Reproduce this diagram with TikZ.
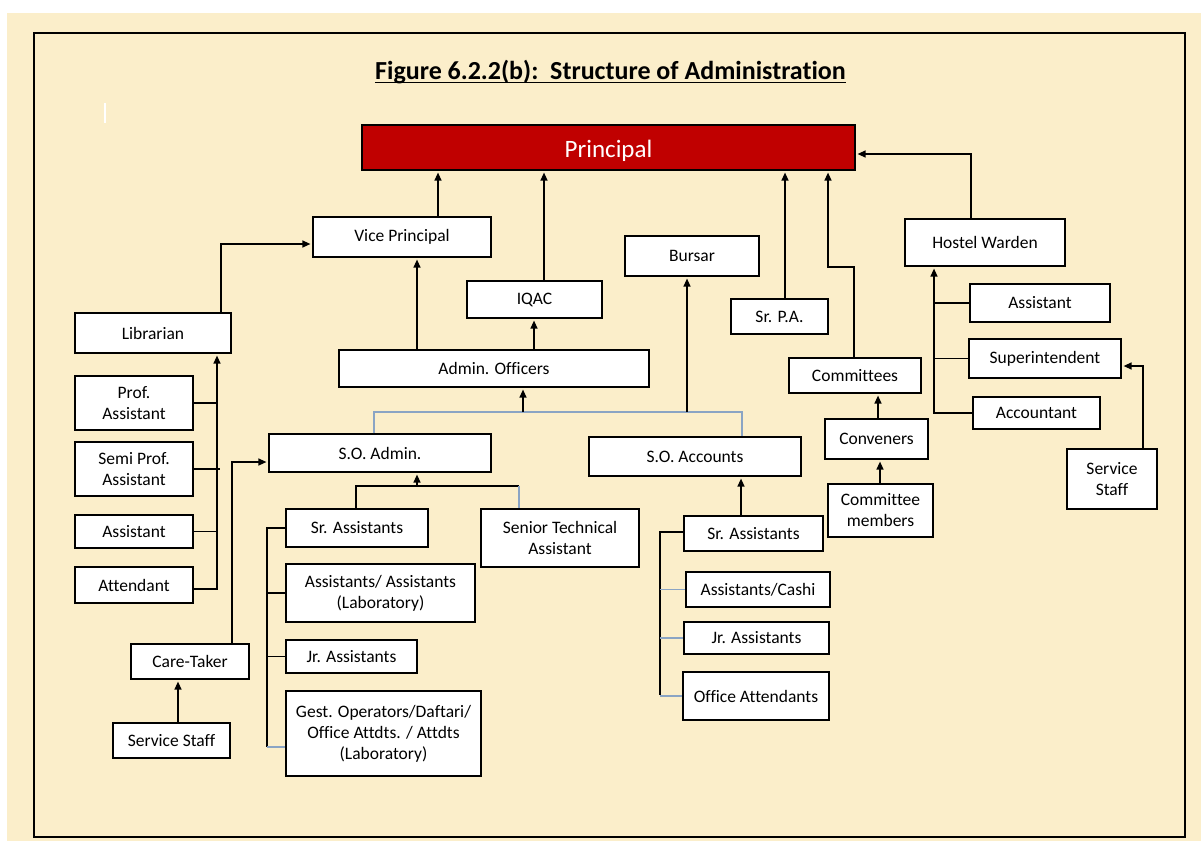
\documentclass[tikz,border=0pt]{standalone}
\usepackage{fontspec}
\setmainfont[Ligatures=NoCommon]{Carlito}
\usetikzlibrary{arrows.meta}
\definecolor{cream}{HTML}{FBEECA}
\definecolor{pred}{HTML}{C00000}
\definecolor{gbl}{HTML}{8AA4C4}
\newcommand\obox[6]{\node[box,minimum width={(#4)-(#2)},minimum height={(#5)-(#3)}] (#1) at ({((#2)+(#4))/2},{((#3)+(#5))/2}) {#6};}
\begin{document}
\begin{tikzpicture}[x=1pt,y=-1pt,
 box/.style={draw=black,line width=1.2pt,fill=white,inner sep=0pt,align=center,font=\fontsize{17.5}{21}\selectfont},
 arr/.style={draw=black,line width=1.3pt,-{Triangle[length=8pt,width=7pt]},shorten >=2pt},
 bl/.style={draw=black,line width=1.3pt},
 gl/.style={draw=gbl,line width=1.1pt}]
\useasboundingbox (0,0) rectangle (1201,841);
\fill[white] (0,0) rectangle (1201,841);
\fill[cream] (7,13) rectangle (1201,841);
\draw[line width=1.3pt] (34,33) rectangle (1185,837);
\draw[white,line width=1.2pt] (105,103) -- (105,123);
% title
\node[inner sep=0pt,anchor=base,font=\fontsize{26}{30}\selectfont\bfseries] (title) at (610.5,79) {Figure 6.2.2(b):\ \ Structure of Administration};
\draw[line width=1.4pt] ([yshift=-3.5pt]title.base west) -- ([yshift=-3.5pt]title.base east);
% principal
\node[draw=black,line width=1.2pt,fill=pred,inner sep=0pt,minimum width=493,minimum height=45] (pr) at (608.5,147.5) {};
\node[text=white,inner sep=0pt,anchor=base,font=\fontsize{25}{30}\selectfont] at (608.5,157) {Principal};
% boxes
\obox{vp}{313}{217}{491}{257}{Vice Principal}
\obox{iqac}{467}{281}{602}{318}{IQAC}
\obox{ao}{339}{350}{649}{387}{Admin. Officers}
\obox{bur}{625}{236}{759}{276}{Bursar}
\obox{spa}{731}{299}{828}{334}{Sr. P.A.}
\obox{com}{789}{358}{921}{393}{Committees}
\obox{hw}{905}{219}{1065}{266}{Hostel Warden}
\obox{asst}{970}{284}{1110}{322}{Assistant}
\obox{sup}{969}{339}{1121}{378}{Superintendent}
\obox{acct}{973}{397}{1100}{429}{Accountant}
\obox{ssr}{1067}{449}{1157}{509}{Service\\Staff}
\obox{conv}{825}{419}{928}{459}{Conveners}
\obox{cm}{828}{484}{933}{537}{Committee\\members}
\obox{lib}{75}{313}{231}{353}{Librarian}
\obox{pa}{75}{376}{193}{430}{Prof.\\Assistant}
\obox{spa2}{75}{442}{193}{496}{Semi Prof.\\Assistant}
\obox{la}{75}{515}{193}{548}{Assistant}
\obox{att}{75}{567}{193}{603}{Attendant}
\obox{ct}{131}{644}{249}{679}{Care-Taker}
\obox{ssl}{113}{723}{230}{758}{Service Staff}
\obox{soad}{269}{434}{491}{472}{S.O. Admin.}
\obox{sra}{286}{509}{428}{547}{Sr. Assistants}
\obox{sta}{481}{509}{639}{567}{Senior Technical\\Assistant}
\obox{alab}{286}{564}{475}{622}{Assistants/ Assistants\\(Laboratory)}
\obox{jra}{286}{640}{417}{673}{Jr. Assistants}
\obox{gest}{286}{691}{481}{776}{Gest. Operators/Daftari/\\Office Attdts. / Attdts\\(Laboratory)}
\obox{soac}{589}{437}{801}{476}{S.O. Accounts}
\obox{sra2}{684}{516}{823}{551}{Sr. Assistants}
\obox{cash}{686}{572}{830}{607}{Assistants/Cashi}
\obox{jra2}{684}{622}{829}{654}{Jr. Assistants}
\obox{oa}{683}{672}{829}{720}{Office Attendants}
% to principal
\coordinate (xVP) at (438,0);
\draw[arr] (vp.north -| xVP) -- (pr.south -| xVP);
\coordinate (xIQ) at (544,0);
\draw[arr] (iqac.north -| xIQ) -- (pr.south -| xIQ);
\coordinate (xSPA) at (785,0);
\draw[arr] (spa.north -| xSPA) -- (pr.south -| xSPA);
\coordinate (jComA) at (854,267);
\coordinate (jComB) at (828,267);
\draw[arr] (com.north -| jComA) -- (jComA) -- (jComB) -- (pr.south -| jComB);
\coordinate (jHW) at (971,154);
\draw[arr] (hw.north -| jHW) -- (jHW) -- (pr.east |- jHW);
% admin officers
\coordinate (xAV) at (417,0);
\draw[arr] (ao.north -| xAV) -- (vp.south -| xAV);
\coordinate (xAI) at (534,0);
\draw[arr] (ao.north -| xAI) -- (iqac.south -| xAI);
\coordinate (gL) at (374,412);
\coordinate (gR) at (742,412);
\draw[gl] (soad.north -| gL) -- (gL) -- (gR) -- (soac.north -| gR);
\coordinate (jAO) at (523,412);
\draw[arr] (jAO) -- (ao.south -| jAO);
\coordinate (jBur) at (687,412);
\draw[arr] (jBur) -- (bur.south -| jBur);
% library
\coordinate (jLib) at (221,244);
\draw[arr] (lib.north -| jLib) -- (jLib) -- (vp.west |- jLib);
\coordinate (jAtt) at (217,589);
\draw[arr] (att.east |- jAtt) -- (jAtt) -- (lib.south -| jAtt);
\draw[bl] (pa.east) -- (pa.east -| jAtt);
\draw[bl] (spa2.east) -- ([xshift=3pt]spa2.east -| jAtt);
\draw[bl] (la.east) -- (la.east -| jAtt);
% care-taker
\coordinate (jCT) at (232,462);
\draw[arr] (ct.north -| jCT) -- (jCT) -- (soad.west |- jCT);
\coordinate (xSS) at (178,0);
\draw[arr] (ssl.north -| xSS) -- (ct.south -| xSS);
% S.O. Admin subordinates
\coordinate (jSA1) at (356,486);
\coordinate (jSA2) at (519,486);
\draw[bl] (sra.north -| jSA1) -- (jSA1) -- (jSA2);
\draw[gl] (jSA2) -- (sta.north -| jSA2);
\coordinate (jSA) at (417,486);
\draw[arr] (jSA) -- (soad.south -| jSA);
\coordinate (bA1) at (267,528);
\coordinate (bA2) at (267,747);
\draw[bl] (sra.west |- bA1) -- (bA1) -- (bA2);
\draw[bl] (alab.west) -- (alab.west -| bA1);
\draw[bl] (jra.west) -- (jra.west -| bA1);
\draw[gl] (bA2) -- (gest.west |- bA2);
% S.O. Accounts subordinates
\coordinate (xSOA) at (741,0);
\draw[arr] (sra2.north -| xSOA) -- (soac.south -| xSOA);
\coordinate (bC1) at (660,532);
\coordinate (bC2) at (660,695);
\draw[bl] (sra2.west |- bC1) -- (bC1) -- (bC2);
\draw[gl] (cash.west -| bC1) -- (cash.west);
\draw[gl] (jra2.west -| bC1) -- (jra2.west);
\draw[gl] (oa.west -| bC1) -- (oa.west);
% hostel
\coordinate (bH) at (934,413);
\draw[arr] (acct.west |- bH) -- (bH) -- (hw.south -| bH);
\draw[bl] (asst.west) -- (asst.west -| bH);
\draw[bl] (sup.west) -- (sup.west -| bH);
\coordinate (jSS) at (1143,366);
\draw[arr] (ssr.north -| jSS) -- (jSS) -- (sup.east |- jSS);
% committees
\coordinate (xCv) at (878,0);
\draw[arr] (conv.north -| xCv) -- (com.south -| xCv);
\coordinate (xCm) at (880,0);
\draw[arr] (cm.north -| xCm) -- (conv.south -| xCm);
\end{tikzpicture}
\end{document}
